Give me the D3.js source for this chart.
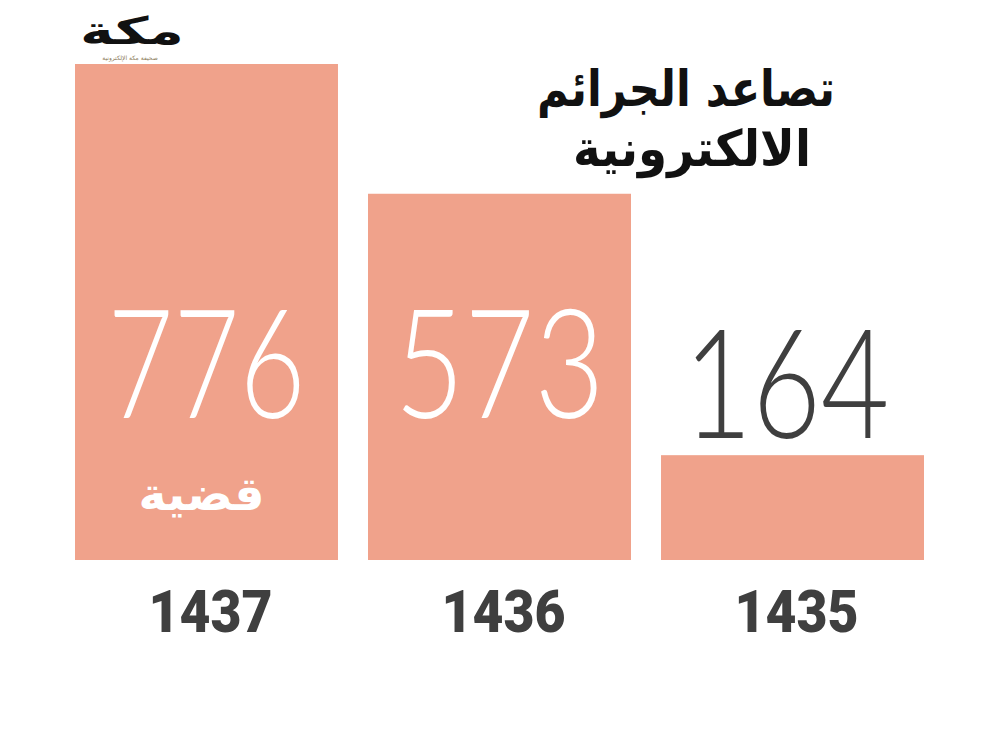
<!DOCTYPE html>
<html><head><meta charset="utf-8">
<script src="https://cdn.jsdelivr.net/npm/d3@7"></script>
<style>
html,body{margin:0;padding:0;background:#fff;}
svg{display:block;}
</style></head>
<body>
<script>
const years = ["1437","1436","1435"];
const counts = [776, 573, 164];
const titleLines = ["تصاعد الجرائم","الالكترونية"];
const unitLabel = "قضية";
const logoText = "مكة";

const W = 1000, H = 750;
const svg = d3.select("body").append("svg").attr("width", W).attr("height", H);

const x = d3.scaleBand().domain(years).range([75, 924]).paddingInner(0.1025).paddingOuter(0);
const y = d3.scaleLinear().domain([0, 776]).range([560, 64]);

const barColor = "#f0a28b";
const dark = "#3f3f3f";

// bars
svg.append("g").selectAll("rect").data(years).join("rect")
  .attr("x", d => x(d))
  .attr("y", (d,i) => y(counts[i]))
  .attr("width", x.bandwidth())
  .attr("height", (d,i) => y(0) - y(counts[i]))
  .attr("fill", barColor);

// value labels
svg.append("g").selectAll("text").data(years).join("text")
  .attr("x", (d,i) => x(d) + x.bandwidth()/2 + (i === 2 ? -6 : 0))
  .attr("y", (d,i) => counts[i] > 400 ? 418 : y(counts[i]) - 17)
  .attr("text-anchor", "middle")
  .attr("font-family", "Lato, 'Open Sans', sans-serif")
  .attr("font-weight", 300)
  .attr("font-size", 152)
  .attr("textLength", (d,i) => i===2 ? 206 : (i===1 ? 210 : 198))
  .attr("lengthAdjust", "spacingAndGlyphs")
  .attr("fill", (d,i) => counts[i] > 400 ? "#ffffff" : dark)
  .text((d,i) => counts[i]);

// unit label inside first bar
svg.append("text")
  .attr("x", x(years[0]) + x.bandwidth()/2 - 5)
  .attr("y", 510)
  .attr("text-anchor", "middle")
  .attr("direction", "rtl")
  .attr("font-family", "'DejaVu Sans', sans-serif")
  .attr("font-weight", "bold")
  .attr("font-size", 46)
  .attr("textLength", 126)
  .attr("lengthAdjust", "spacingAndGlyphs")
  .attr("fill", "#ffffff")
  .text(unitLabel);

// x axis (year labels)
const axis = svg.append("g").attr("transform", "translate(0,570)")
  .call(d3.axisBottom(x).tickSize(0).tickPadding(0));
axis.select(".domain").remove();
axis.selectAll("text")
  .attr("y", 62).attr("dy", 0)
  .attr("font-family", "Roboto, 'Liberation Sans', sans-serif")
  .attr("font-weight", 900)
  .attr("font-size", 60)
  .attr("fill", dark)
  .attr("textLength", 124)
  .attr("lengthAdjust", "spacingAndGlyphs");
axis.selectAll(".tick").attr("transform", d => `translate(${x(d) + x.bandwidth()/2 + 4},0)`);

// title
const titleLen = [298, 238];
svg.append("g").selectAll("text").data(titleLines).join("text")
  .attr("x", (d,i) => i === 0 ? 686 : 692)
  .attr("y", (d,i) => 106 + i*60)
  .attr("text-anchor", "middle")
  .attr("direction", "rtl")
  .attr("font-family", "'DejaVu Sans', sans-serif")
  .attr("font-weight", "bold")
  .attr("font-size", 50)
  .attr("textLength", (d,i) => titleLen[i])
  .attr("lengthAdjust", "spacingAndGlyphs")
  .attr("fill", "#111")
  .text(d => d);

// logo
svg.append("text")
  .attr("x", 132).attr("y", 44)
  .attr("text-anchor", "middle")
  .attr("direction", "rtl")
  .attr("font-family", "'DejaVu Sans', sans-serif")
  .attr("font-weight", "bold")
  .attr("font-size", 38)
  .attr("textLength", 104)
  .attr("lengthAdjust", "spacingAndGlyphs")
  .attr("fill", "#111")
  .text(logoText);
svg.append("text")
  .attr("x", 130).attr("y", 60)
  .attr("text-anchor", "middle")
  .attr("direction", "rtl")
  .attr("font-family", "'DejaVu Sans', sans-serif")
  .attr("font-size", 6)
  .attr("fill", "#8a7a5a")
  .text("صحيفة مكة الإلكترونية");
</script>
</body></html>
